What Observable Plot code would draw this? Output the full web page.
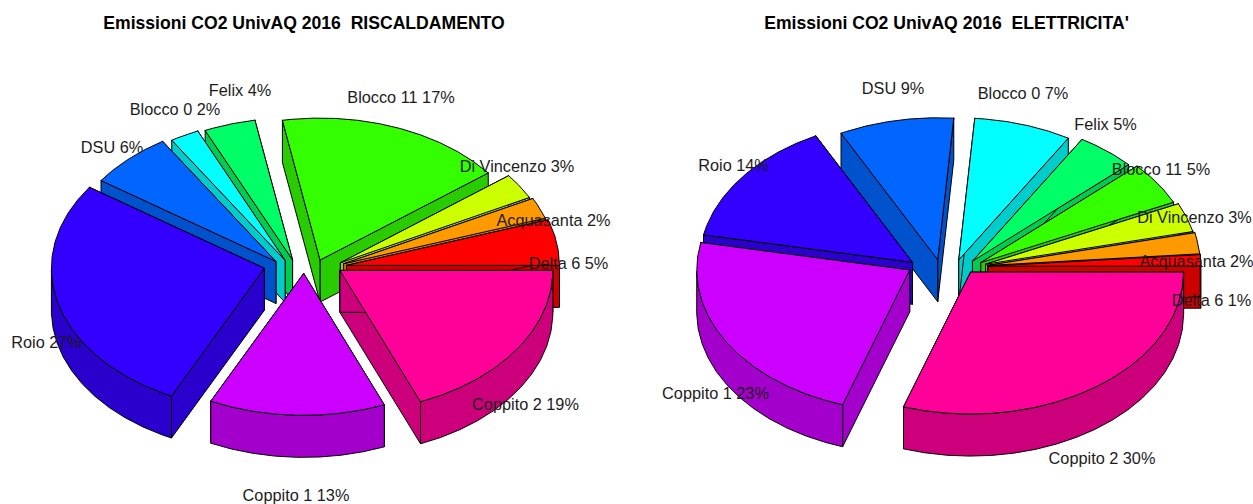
<!DOCTYPE html>
<html>
<head>
<meta charset="utf-8">
<script src="https://cdn.jsdelivr.net/npm/d3@7"></script>
<script src="https://cdn.jsdelivr.net/npm/@observablehq/plot@0.6"></script>
<style>html,body{margin:0;padding:0;background:#fff;overflow:hidden}svg{display:block}</style>
</head>
<body>
<div id="chart"></div>
<script>
// ---- data ----
const sites = ["Delta 6","Acquasanta","Di Vincenzo","Blocco 11","Felix","Blocco 0","DSU","Roio","Coppito 1","Coppito 2"];
const riscaldamento = [5.2,2.4,2.9,17.3,3.9,2.2,6.4,27.45,13.35,18.8];
const elettricita   = [1.3,2.4,3.3,4.9,4.5,7.4,8.7,14.4,23.0,30.1];
const topColors  = ["#FF0000","#FF9900","#CCFF00","#33FF00","#00FF66","#00FFFF","#0066FF","#3300FF","#CC00FF","#FF0099"];
const sideColors = ["#CC0000","#CC7A00","#A3CC00","#29CC00","#00CC52","#00CCCC","#0052CC","#2900CC","#A300CC","#CC007A"];
const titleLeft  = "Emissioni CO2 UnivAQ 2016\u00A0\u00A0RISCALDAMENTO";
const titleRight = "Emissioni CO2 UnivAQ 2016\u00A0\u00A0ELETTRICITA'";

// ---- layout ----
const W = 1253, H = 504;
const pieLeft  = {cx: 304.5, cy: 266, titleX: 303.5, spots: [[568,263],[553,220],[516.5,166],[400.5,97],[239.5,90],[174.5,109],[111.5,147],[46,342],[295.5,495],[525,404]]};
const pieRight = {cx: 945.5, cy: 266, titleX: 946, spots: [[1211,300],[1196,261],[1194,217],[1160.5,169],[1105,124],[1022.5,93],[892.5,88],[733,165],[715,393],[1101.5,458]]};
const rx = 213, ry = 142, depth = 42, explode = 42, explodeY = 6.9, edges = 60;

const polys = [], labels = [];
let nextId = 0;
function addPoly(points, fill) {
  const id = nextId++;
  [...points, points[0]].forEach(([x, y]) => polys.push({id, x, y, fill}));
}
function addPie(values, pie) {
  const total = d3.sum(values);
  const cum = d3.cumsum(values);
  const sectors = values.map((v, i) => {
    const start = (i ? cum[i - 1] : 0) / total * 2 * Math.PI;
    const end = cum[i] / total * 2 * Math.PI;
    return {i, v, start, end, mid: (start + end) / 2};
  });
  // farthest sectors are painted first
  d3.sort(sectors, s => -Math.sin(s.mid)).forEach(s => {
    const ax = pie.cx + Math.cos(s.mid) * explode;
    const ay = pie.cy - Math.sin(s.mid) * explodeY;
    const inc = 2 * Math.PI / edges;
    const angles = [];
    for (let a = s.start; a < s.end; a += inc) angles.push(a);
    angles.push(s.end);
    const top = angles.map(a => [ax + Math.cos(a) * rx, ay - Math.sin(a) * ry]);
    const low = p => [p[0], p[1] + depth];
    const apex = [ax, ay];
    const side = sideColors[s.i];
    const first = top[0], last = top[top.length - 1];
    addPoly([first, apex, low(apex), low(first)], side);
    addPoly([last, apex, low(apex), low(last)], side);
    const vis = top.filter((p, k) => angles[k] >= Math.PI && angles[k] <= 2 * Math.PI + 1e-9);
    if (vis.length) addPoly([...vis, ...vis.slice().reverse().map(low)], side);
    addPoly([apex, ...top], topColors[s.i]);
    labels.push({text: `${sites[s.i]} ${Math.round(s.v)}%`, x: pie.spots[s.i][0], y: pie.spots[s.i][1]});
  });
}
addPie(riscaldamento, pieLeft);
addPie(elettricita, pieRight);

const titles = [
  {text: titleLeft, x: pieLeft.titleX, y: 23},
  {text: titleRight, x: pieRight.titleX, y: 23}
];

const chart = Plot.plot({
  width: W, height: H,
  margin: 0,
  x: {domain: [0, W], range: [0, W], axis: null},
  y: {domain: [0, H], range: [0, H], axis: null},
  marks: [
    Plot.line(polys, {x: "x", y: "y", z: "id", fill: "fill", stroke: "#000", strokeWidth: 1, curve: "linear", strokeLinejoin: "miter"}),
    Plot.text(labels, {x: "x", y: "y", text: "text", fill: "#1c1c1c", fontFamily: "Liberation Sans", fontSize: 16.3, textAnchor: "middle", lineAnchor: "middle"}),
    Plot.text(titles, {x: "x", y: "y", text: "text", fill: "#000", fontFamily: "Liberation Sans", fontWeight: "bold", fontSize: 17.6, textAnchor: "middle", lineAnchor: "middle"})
  ]
});
document.getElementById("chart").appendChild(chart);
</script>
</body>
</html>
